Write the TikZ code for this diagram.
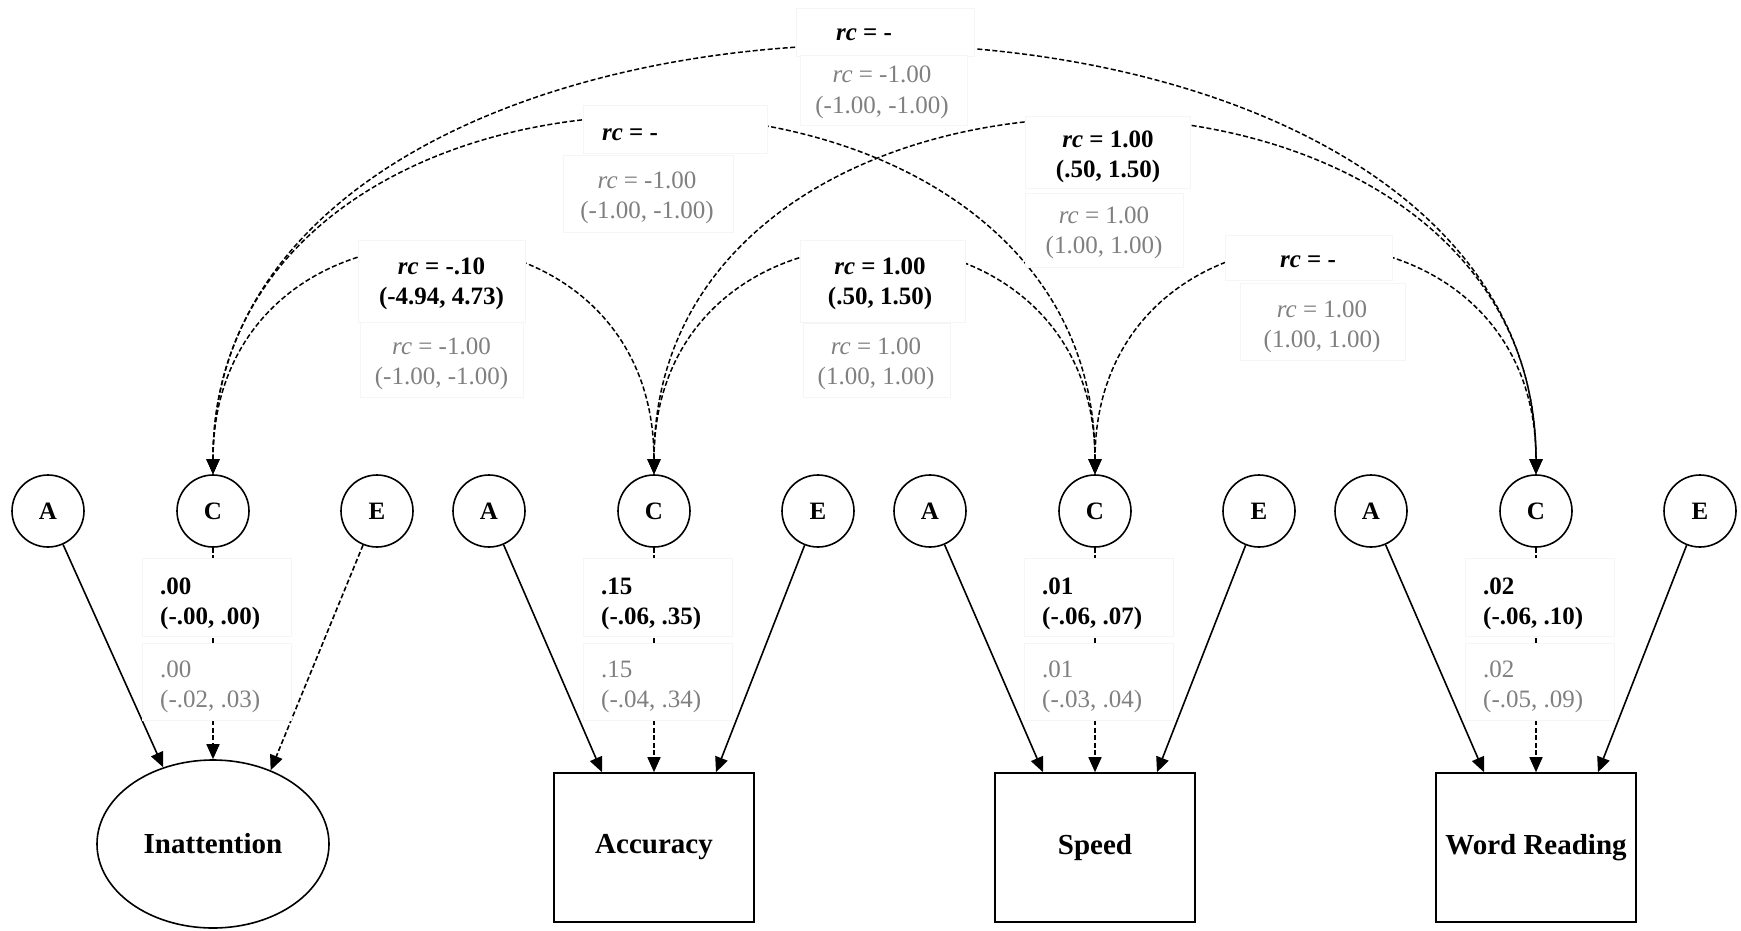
\documentclass[tikz,border=0pt]{standalone}
\usepackage{fontspec}
\setmainfont{Liberation Serif}
\usetikzlibrary{shapes.geometric,arrows.meta,calc}
\begin{document}
\begin{tikzpicture}[x=1pt,y=-1pt,
  lat/.style={circle,draw,line width=1.6pt,minimum size=72pt,inner sep=0pt,font=\fontsize{25}{30}\selectfont\bfseries},
  obs/.style={rectangle,draw,line width=1.6pt,minimum width=200pt,minimum height=149pt,inner sep=0pt,font=\fontsize{29}{34}\selectfont\bfseries},
  latent/.style={ellipse,draw,line width=1.6pt,minimum width=232pt,minimum height=168pt,inner sep=0pt,font=\fontsize{29}{34}\selectfont\bfseries},
  lbl/.style={rectangle,draw=black!4,fill=white,line width=0.8pt,inner sep=0pt},
  bt/.style={inner sep=0pt,anchor=base,font=\fontsize{25}{30}\selectfont\bfseries},
  gt/.style={inner sep=0pt,anchor=base,text=black!50,font=\fontsize{25}{30}\selectfont},
  btl/.style={bt,anchor=base west},
  gtl/.style={gt,anchor=base west},
  conn/.style={line width=1.6pt,-{Triangle[width=13pt,length=15pt]}},
  dconn/.style={conn,dash pattern=on 5pt off 2.5pt},
  cov/.style={line width=1.5pt,dash pattern=on 5pt off 2.5pt,{Triangle[width=13pt,length=15pt]}-{Triangle[width=13pt,length=15pt]}},
]
\fill[white] (0,0) rectangle (1741,930);
\useasboundingbox (0,0) rectangle (1741,930);

% latent factors
\node[lat] (A1) at (48,511) {A};
\node[lat] (C1) at (213,511) {C};
\node[lat] (E1) at (377,511) {E};
\node[lat] (A2) at (489,511) {A};
\node[lat] (C2) at (654,511) {C};
\node[lat] (E2) at (818,511) {E};
\node[lat] (A3) at (930,511) {A};
\node[lat] (C3) at (1095,511) {C};
\node[lat] (E3) at (1259,511) {E};
\node[lat] (A4) at (1371,511) {A};
\node[lat] (C4) at (1536,511) {C};
\node[lat] (E4) at (1700,511) {E};

% outcomes
\node[latent] (I) at (213,844) {Inattention};
\node[obs] (Acc) at (654,847.5) {Accuracy};
\node[obs] (Spd) at (1095,847.5) {Speed};
\node[obs] (WR) at (1536,847.5) {Word Reading};

% paths
\draw[conn] (A1) -- (I.123);
\draw[dconn] (C1) -- (I.north);
\draw[dconn] (E1) -- (I.52);
\draw[conn] (A2) -- ($(Acc.north)+(-52,0)$);
\draw[dconn] (C2) -- (Acc.north);
\draw[conn] (E2) -- ($(Acc.north)+(62,0)$);
\draw[conn] (A3) -- ($(Spd.north)+(-52,0)$);
\draw[dconn] (C3) -- (Spd.north);
\draw[conn] (E3) -- ($(Spd.north)+(62,0)$);
\draw[conn] (A4) -- ($(WR.north)+(-52,0)$);
\draw[dconn] (C4) -- (WR.north);
\draw[conn] (E4) -- ($(WR.north)+(62,0)$);

% covariances
\draw[cov] (C1.north) .. controls +(0,-300) and +(0,-300) .. (C2.north);
\draw[cov] (C2.north) .. controls +(0,-299) and +(0,-299) .. (C3.north);
\draw[cov] (C3.north) .. controls +(0,-300) and +(0,-300) .. (C4.north);
\draw[cov] (C1.north) .. controls +(0,-473) and +(0,-473) .. (C3.north);
\draw[cov] (C2.north) .. controls +(0,-470) and +(0,-470) .. (C4.north);
\draw[cov] (C1.north) .. controls +(0,-568) and +(0,-568) .. (C4.north);

% covariance labels
\node[lbl,minimum width=167pt,minimum height=82pt] (L1b) at (441.5,281) {};
\node[lbl,minimum width=163pt,minimum height=75pt] (L1g) at (441.5,359.5) {};
\node[bt] (L1b1) at (441.5,274) {\textit{rc} = -.10};
\node[bt] (L1b2) at (441.5,304) {(-4.94, 4.73)};
\node[gt] (L1g1) at (441.5,354) {\textit{rc} = -1.00};
\node[gt] (L1g2) at (441.5,384) {(-1.00, -1.00)};

\node[lbl,minimum width=165pt,minimum height=82pt] (L2b) at (882.5,281) {};
\node[lbl,minimum width=147pt,minimum height=74pt] (L2g) at (876.5,360) {};
\node[bt] (L2b1) at (880,274) {\textit{rc} = 1.00};
\node[bt] (L2b2) at (880,304) {(.50, 1.50)};
\node[gt] (L2g1) at (876,354) {\textit{rc} = 1.00};
\node[gt] (L2g2) at (876,384) {(1.00, 1.00)};

\node[lbl,minimum width=167pt,minimum height=45pt] (L3b) at (1308.5,257.5) {};
\node[lbl,minimum width=165pt,minimum height=77pt] (L3g) at (1322.5,321.5) {};
\node[bt] (L3b1) at (1308,267) {\textit{rc} = -};
\node[gt] (L3g1) at (1322,317) {\textit{rc} = 1.00};
\node[gt] (L3g2) at (1322,347) {(1.00, 1.00)};

\node[lbl,minimum width=184pt,minimum height=48pt] (L4b) at (675,129) {};
\node[lbl,minimum width=170pt,minimum height=77pt] (L4g) at (648,193.5) {};
\node[bt] (L4b1) at (630,140) {\textit{rc} = -};
\node[gt] (L4g1) at (647,188) {\textit{rc} = -1.00};
\node[gt] (L4g2) at (647,218) {(-1.00, -1.00)};

\node[lbl,minimum width=165pt,minimum height=72pt] (L5b) at (1107.5,152) {};
\node[lbl,minimum width=158pt,minimum height=74pt] (L5g) at (1104,230) {};
\node[bt] (L5b1) at (1108,147) {\textit{rc} = 1.00};
\node[bt] (L5b2) at (1108,177) {(.50, 1.50)};
\node[gt] (L5g1) at (1104,223) {\textit{rc} = 1.00};
\node[gt] (L5g2) at (1104,253) {(1.00, 1.00)};

\node[lbl,minimum width=178pt,minimum height=48pt] (L6b) at (885,32) {};
\node[lbl,minimum width=167pt,minimum height=70pt] (L6g) at (883.5,90) {};
\node[bt] (L6b1) at (864,40) {\textit{rc} = -};
\node[gt] (L6g1) at (882,82) {\textit{rc} = -1.00};
\node[gt] (L6g2) at (882,113) {(-1.00, -1.00)};

% path labels
\node[lbl,minimum width=149pt,minimum height=78pt] (P1b) at (216.5,597) {};
\node[lbl,minimum width=149pt,minimum height=77pt] (P1g) at (216.5,681.5) {};
\node[btl] (P1b1) at (160,594) {.00};
\node[btl] (P1b2) at (160,624) {(-.00, .00)};
\node[gtl] (P1g1) at (160,677) {.00};
\node[gtl] (P1g2) at (160,707) {(-.02, .03)};

\node[lbl,minimum width=149pt,minimum height=78pt] (P2b) at (657.5,597) {};
\node[lbl,minimum width=149pt,minimum height=77pt] (P2g) at (657.5,681.5) {};
\node[btl] (P2b1) at (601,594) {.15};
\node[btl] (P2b2) at (601,624) {(-.06, .35)};
\node[gtl] (P2g1) at (601,677) {.15};
\node[gtl] (P2g2) at (601,707) {(-.04, .34)};

\node[lbl,minimum width=149pt,minimum height=78pt] (P3b) at (1098.5,597) {};
\node[lbl,minimum width=149pt,minimum height=77pt] (P3g) at (1098.5,681.5) {};
\node[btl] (P3b1) at (1042,594) {.01};
\node[btl] (P3b2) at (1042,624) {(-.06, .07)};
\node[gtl] (P3g1) at (1042,677) {.01};
\node[gtl] (P3g2) at (1042,707) {(-.03, .04)};

\node[lbl,minimum width=149pt,minimum height=78pt] (P4b) at (1539.5,597) {};
\node[lbl,minimum width=149pt,minimum height=77pt] (P4g) at (1539.5,681.5) {};
\node[btl] (P4b1) at (1483,594) {.02};
\node[btl] (P4b2) at (1483,624) {(-.06, .10)};
\node[gtl] (P4g1) at (1483,677) {.02};
\node[gtl] (P4g2) at (1483,707) {(-.05, .09)};
\end{tikzpicture}
\end{document}
